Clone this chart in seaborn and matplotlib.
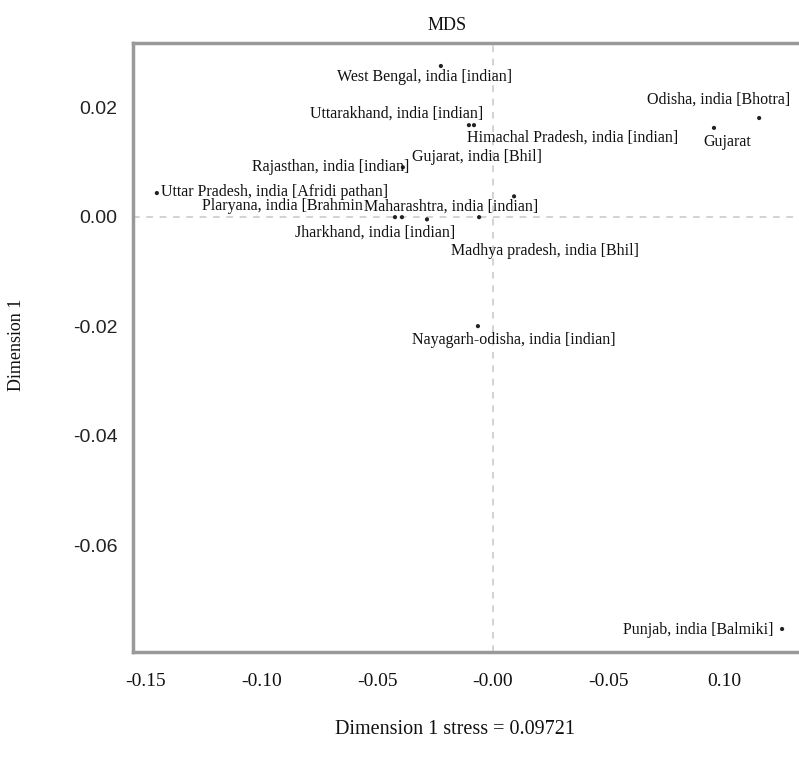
import matplotlib
matplotlib.use("Agg")
import matplotlib.pyplot as plt
import pandas as pd
import seaborn as sns

# MDS coordinates
labels = [
    "West Bengal, india [indian]",
    "Uttarakhand, india [indian]",
    "Himachal Pradesh, india [indian]",
    "Rajasthan, india [indian]",
    "Gujarat, india [Bhil]",
    "Uttar Pradesh, india [Afridi pathan]",
    "Plaryana, india [Brahmin",
    "Maharashtra, india [indian]",
    "Jharkhand, india [indian]",
    "Madhya pradesh, india [Bhil]",
    "Odisha, india [Bhotra]",
    "Gujarat",
    "Nayagarh-odisha, india [indian]",
    "Punjab, india [Balmiki]",
]
dim2 = [-0.0225, -0.0104, -0.0082, -0.0389, 0.0091, -0.1451, -0.0423,
        -0.0393, -0.0285, -0.0060, 0.1149, 0.0954, -0.0065, 0.1248]
dim1 = [0.0275, 0.0167, 0.0167, 0.0090, 0.0037, 0.0043, -0.0001,
        -0.0001, -0.0005, -0.0001, 0.0180, 0.0162, -0.0200, -0.0753]

x_ticks = [-0.15, -0.10, -0.05, 0.00, 0.05, 0.10]
x_tick_labels = ["-0.15", "-0.10", "-0.05", "-0.00", "-0.05", "0.10"]
y_ticks = [0.02, 0.00, -0.02, -0.04, -0.06]
y_tick_labels = ["0.02", "0.00", "-0.02", "-0.04", "-0.06"]

# label placement (pixel offset from the point, horizontal alignment)
offsets = [(-16, -11, "center"), (14, 12, "right"), (-7, -12, "left"),
           (7, 0, "right"), (-102, 39, "left"), (4, 1, "left"),
           (-193, 11, "left"), (-38, 11, "left"), (-52, -13, "center"),
           (-28, -34, "left"), (31, 18, "right"), (-11, -14, "left"),
           (-66, -14, "left"), (-9, -1, "right")]

df = pd.DataFrame({"label": labels, "dim2": dim2, "dim1": dim1})

sns.set_style("white")
serif = ["Liberation Serif", "DejaVu Serif"]
sans = ["Liberation Sans", "DejaVu Sans"]

fig = plt.figure(figsize=(7.99, 7.66), dpi=100)
ax = fig.add_axes([133 / 799, 1 - 652 / 766, 666 / 799, 609 / 766])

# dotted reference lines through the origin
ax.axhline(0, color="#cccccc", linestyle=(0, (4, 4)), lw=1.2, zorder=1)
ax.axvline(0, color="#cccccc", linestyle=(0, (4, 4)), lw=1.2, zorder=1)

sns.scatterplot(data=df, x="dim2", y="dim1", ax=ax, color="#222222",
                s=9, edgecolor="none", zorder=3, legend=False)

for (lab, xv, yv), (dx, dy, ha) in zip(zip(labels, dim2, dim1), offsets):
    ax.annotate(lab, (xv, yv), xytext=(dx, dy), textcoords="offset pixels",
                ha=ha, va="center", fontsize=11.5, family=serif, color="#111111")

ax.set_xlim(-0.1554, 0.1321)
ax.set_ylim(-0.0795, 0.0317)
ax.set_xticks(x_ticks)
ax.set_xticklabels(x_tick_labels, family=serif, fontsize=14, color="#111111")
ax.set_yticks(y_ticks)
ax.set_yticklabels(y_tick_labels, family=sans, fontsize=14, color="#222222")
ax.tick_params(axis="both", direction="out", length=7, width=1.5,
               color="#999999", pad=4)
ax.tick_params(axis="x", pad=8)
ax.set_xlabel("")
ax.set_ylabel("")

for side in ["left", "top", "bottom"]:
    ax.spines[side].set_color("#999999")
    ax.spines[side].set_linewidth(2.5)
ax.spines["right"].set_visible(False)

fig.text(447 / 799, 1 - 25 / 766, "MDS", ha="center", va="center",
         fontsize=13, family=serif, color="#111111")
fig.text(17 / 799, 1 - 345 / 766, "Dimension 1", ha="center", va="center",
         rotation=90, fontsize=13, family=serif, color="#111111")
fig.text(455 / 799, 1 - 730 / 766, "Dimension 1 stress = 0.09721",
         ha="center", va="center", fontsize=14.5, family=serif, color="#111111")

fig.savefig("out.png", dpi=100)
